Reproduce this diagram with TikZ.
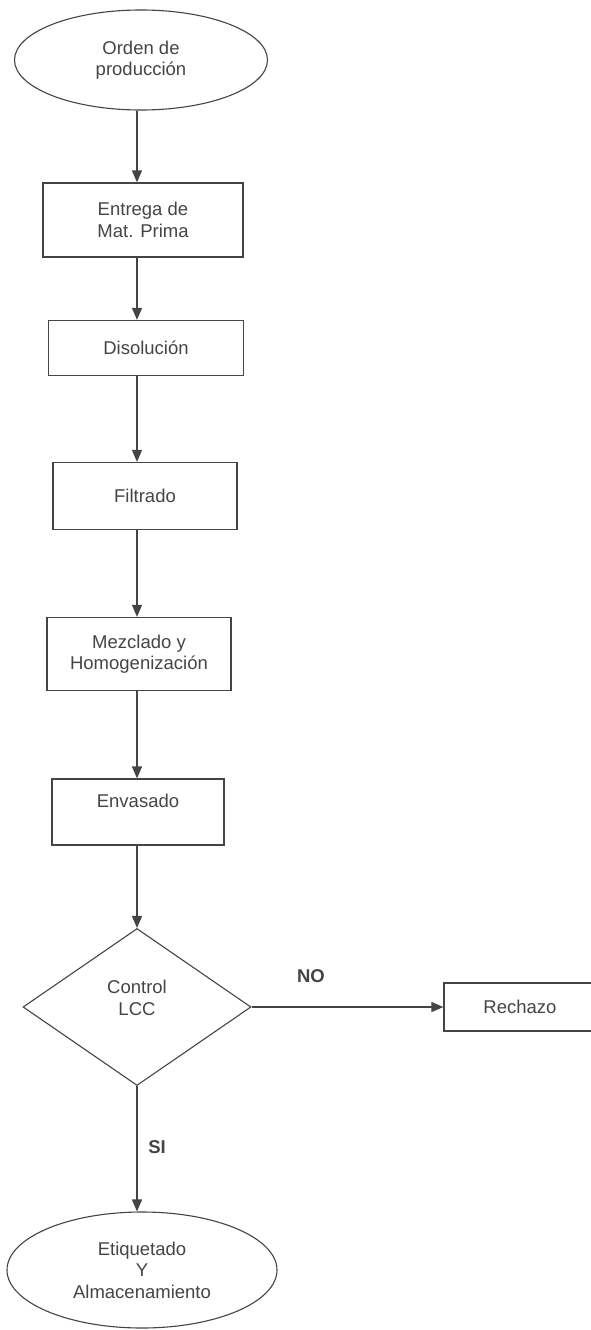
\documentclass[tikz,border=0pt]{standalone}
\usepackage{fontspec}
\setmainfont{Liberation Sans}
\usetikzlibrary{shapes.geometric,arrows.meta}
\definecolor{ink}{HTML}{444444}
\definecolor{txt}{HTML}{454545}
\begin{document}
\begin{tikzpicture}[x=1pt,y=-1pt,
  every node/.style={text=txt,font=\fontsize{18.5}{21.5}\selectfont,align=center,inner sep=0pt},
  boxnode/.style={draw=ink,line width=1.3pt,rectangle},
  ovalnode/.style={draw=ink,line width=1.1pt,ellipse},
  decnode/.style={draw=ink,line width=1.1pt,diamond,aspect=1.45},
  arr/.style={draw=ink,line width=1.3pt,-{Triangle[length=12pt,width=10pt]}},
  lbl/.style={font=\bfseries\fontsize{18.5}{21.5}\selectfont}]
\useasboundingbox (0,0) rectangle (590,1330);
\fill[white] (0,0) rectangle (590,1330);
\node[ovalnode,minimum width=253pt,minimum height=100pt] (ord) at (141,60) {Orden de\\producción};
\node[boxnode,minimum width=200pt,minimum height=74pt] (ent) at (143,220) {Entrega de\\Mat. Prima};
\node[boxnode,minimum width=195pt,minimum height=55pt] (dis) at (146,348) {Disolución};
\node[boxnode,minimum width=184pt,minimum height=67pt] (fil) at (145,496) {Filtrado};
\node[boxnode,minimum width=184pt,minimum height=73pt] (mez) at (139,654) {Mezclado y\\Homogenización};
\node[boxnode,minimum width=172pt,minimum height=66pt] (env) at (138,812) {Envasado\\\mbox{}};
\node[decnode,minimum width=228pt,minimum height=157pt] (dec) at (137,1007) {};
\node (dect) at (137,998) {Control\\LCC};
\node[boxnode,minimum width=152pt,minimum height=48pt] (rec) at (520,1007) {Rechazo};
\node[ovalnode,minimum width=270pt,minimum height=116pt] (eti) at (142,1270) {Etiquetado\\Y\\Almacenamiento};
\draw[arr] (ord.south -| dec.north) -- (ent.north -| dec.north);
\draw[arr] (ent.south -| dec.north) -- (dis.north -| dec.north);
\draw[arr] (dis.south -| dec.north) -- (fil.north -| dec.north);
\draw[arr] (fil.south -| dec.north) -- (mez.north -| dec.north);
\draw[arr] (mez.south -| dec.north) -- (env.north -| dec.north);
\draw[arr] (env.south -| dec.north) -- (dec.north);
\draw[arr] (dec.east) -- (rec.west);
\draw[arr] (dec.south) -- (eti.north -| dec.south);
\node[lbl] (no) at (311,976) {NO};
\node[lbl] (si) at (157,1147) {SI};
\end{tikzpicture}
\end{document}
